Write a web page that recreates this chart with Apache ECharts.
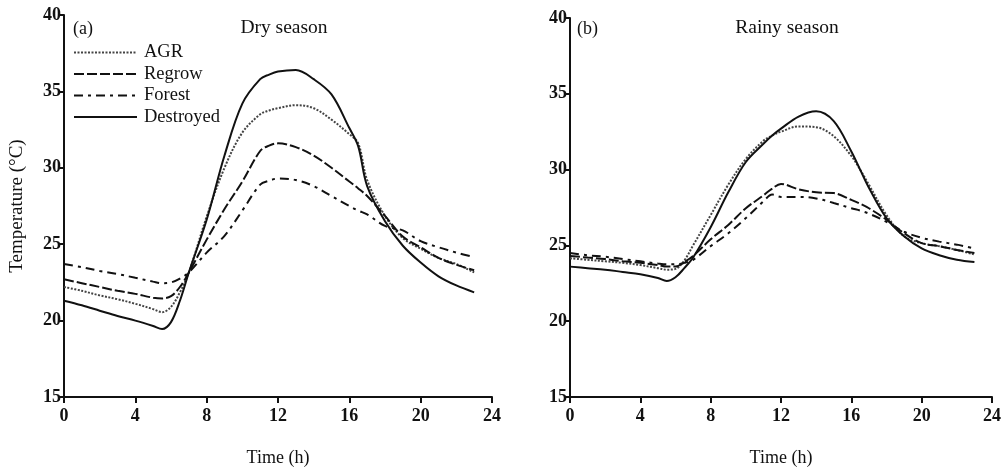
<!DOCTYPE html>
<html>
<head>
<meta charset="utf-8">
<script src="https://cdn.jsdelivr.net/npm/echarts@6/dist/echarts.min.js"></script>
<style>
html,body{margin:0;padding:0;background:#fff;}
#chart{width:1004px;height:472px;}
</style>
</head>
<body>
<div id="chart"></div>
<script>
// Time of day (h)
var hours = [0,1,2,3,4,5,5.5,6,6.5,7,8,9,10,11,11.5,12,13,14,15,16,16.5,17,18,19,20,21,22,23];
var xTicks = [0,4,8,12,16,20,24];
var yTicks = [15,20,25,30,35,40];
var seriesNames = ['AGR','Regrow','Forest','Destroyed'];

// (a) Dry season
var dryAGR       = [22.2,21.95,21.65,21.4,21.1,20.75,20.55,20.9,21.85,23.15,26.8,30.0,32.3,33.5,33.75,33.9,34.1,33.9,33.15,32.2,31.6,29.2,26.85,25.4,24.7,24.1,23.7,23.15];
var dryRegrow    = [22.7,22.45,22.2,21.95,21.75,21.5,21.45,21.6,22.2,23.15,25.3,27.3,29.1,31.1,31.45,31.6,31.35,30.8,30.0,29.1,28.65,28.15,26.85,25.5,24.8,24.1,23.65,23.3];
var dryForest    = [23.7,23.5,23.25,23.05,22.8,22.55,22.45,22.5,22.75,23.15,24.45,25.55,27.2,28.9,29.15,29.3,29.2,28.8,28.15,27.5,27.2,26.95,26.2,25.9,25.2,24.8,24.45,24.15];
var dryDestroyed = [21.3,21.0,20.65,20.3,20.0,19.65,19.45,19.9,21.3,23.15,26.6,30.8,34.2,35.8,36.1,36.3,36.4,35.8,34.8,32.6,31.4,28.8,26.5,24.9,23.8,22.9,22.3,21.85];

// (b) Rainy season
var rainyAGR       = [24.15,24.05,23.95,23.85,23.7,23.5,23.4,23.45,24.0,25.0,27.0,29.0,30.7,31.9,32.25,32.5,32.85,32.8,32.2,30.9,30.0,29.0,27.0,25.6,25.15,24.95,24.7,24.4];
var rainyRegrow    = [24.3,24.2,24.1,23.95,23.85,23.7,23.6,23.6,23.9,24.3,25.4,26.35,27.45,28.3,28.75,29.05,28.7,28.5,28.45,28.0,27.75,27.45,26.7,25.8,25.15,24.95,24.7,24.5];
var rainyForest    = [24.5,24.35,24.25,24.1,23.95,23.8,23.75,23.75,23.85,24.05,24.95,25.8,26.8,27.9,28.35,28.2,28.2,28.1,27.8,27.45,27.3,27.1,26.55,25.9,25.5,25.25,25.05,24.8];
var rainyDestroyed = [23.6,23.5,23.4,23.25,23.1,22.85,22.65,22.9,23.5,24.2,26.2,28.5,30.5,31.7,32.25,32.7,33.5,33.85,33.2,31.2,30.0,28.8,26.8,25.6,24.8,24.35,24.05,23.9];

function pairs(vals){ return hours.map(function(h,i){ return [h, vals[i]]; }); }

var FONT = '"Liberation Serif", "DejaVu Serif", serif';
var styles = {
  'AGR':       {color:'#444', width:2, type:[2,1.5]},
  'Regrow':    {color:'#111', width:2, type:[10,3]},
  'Forest':    {color:'#111', width:2, type:[9,5,3,5]},
  'Destroyed': {color:'#111', width:2, type:'solid'}
};

function mkSeries(name, vals, idx){
  var s = styles[name];
  return {
    name: name, type:'line', xAxisIndex: idx, yAxisIndex: idx,
    data: pairs(vals), showSymbol:false, symbol:'none', smooth:0.35,
    lineStyle:{color:s.color, width:s.width, type:s.type},
    itemStyle:{color:s.color},
    z: name==='Destroyed'?3:2
  };
}

function xAxis(idx){
  return {
    type:'value', gridIndex: idx, min:0, max:24, interval:4,
    name:'Time (h)', nameLocation:'middle', nameGap:52,
    nameTextStyle:{fontFamily:FONT, fontSize:18, fontWeight:'normal', color:'#111'},
    axisLine:{show:true, lineStyle:{color:'#111', width:2}},
    axisTick:{show:true, length:6, lineStyle:{color:'#111', width:2}},
    axisLabel:{fontFamily:FONT, fontSize:18, fontWeight:'bold', color:'#111', margin:10,
      formatter:function(v){ return xTicks.indexOf(v)>=0 ? String(v) : ''; }},
    splitLine:{show:false}
  };
}
function yAxis(idx, withName){
  var a = {
    type:'value', gridIndex: idx, min:15, max:40, interval:5,
    axisLine:{show:true, lineStyle:{color:'#111', width:2}},
    axisTick:{show:true, length:5, lineStyle:{color:'#111', width:2}},
    axisLabel:{fontFamily:FONT, fontSize:18, fontWeight:'bold', color:'#111', margin:3,
      formatter:function(v){ return yTicks.indexOf(v)>=0 ? String(v) : ''; }},
    splitLine:{show:false}
  };
  if (withName){
    a.name = 'Temperature (\u00B0C)';
    a.nameLocation = 'middle';
    a.nameGap = 37;
    a.nameTextStyle = {fontFamily:FONT, fontSize:19, color:'#111'};
  }
  return a;
}

var chart = echarts.init(document.getElementById('chart'), null, {renderer:'canvas'});
chart.setOption({
  backgroundColor:'#fff',
  animation:false,
  title:[
    {text:'Dry season', left:279, top:13, textAlign:'center',
     textStyle:{fontFamily:FONT, fontSize:19.5, fontWeight:'normal', color:'#111'}},
    {text:'Rainy season', left:782, top:13, textAlign:'center',
     textStyle:{fontFamily:FONT, fontSize:19.5, fontWeight:'normal', color:'#111'}},
    {text:'(a)', left:68, top:15,
     textStyle:{fontFamily:FONT, fontSize:18, fontWeight:'normal', color:'#111'}},
    {text:'(b)', left:572, top:15,
     textStyle:{fontFamily:FONT, fontSize:18, fontWeight:'normal', color:'#111'}}
  ],
  legend:{
    data: seriesNames, orient:'vertical', left:68, top:43, padding:[0,0,0,5],
    itemWidth:63, itemHeight:14, itemGap:2.5,
    itemStyle:{opacity:0},
    textStyle:{fontFamily:FONT, fontSize:18.5, lineHeight:16, color:'#111', padding:[0,0,0,2]},
    selectedMode:false
  },
  grid:[
    {left:64, top:15, width:428, height:383},
    {left:570, top:18, width:423, height:382}
  ],
  xAxis:[xAxis(0), xAxis(1)],
  yAxis:[yAxis(0,true), yAxis(1,false)],
  series:[
    mkSeries('AGR', dryAGR, 0),
    mkSeries('Regrow', dryRegrow, 0),
    mkSeries('Forest', dryForest, 0),
    mkSeries('Destroyed', dryDestroyed, 0),
    mkSeries('AGR', rainyAGR, 1),
    mkSeries('Regrow', rainyRegrow, 1),
    mkSeries('Forest', rainyForest, 1),
    mkSeries('Destroyed', rainyDestroyed, 1)
  ]
});
</script>
</body>
</html>
